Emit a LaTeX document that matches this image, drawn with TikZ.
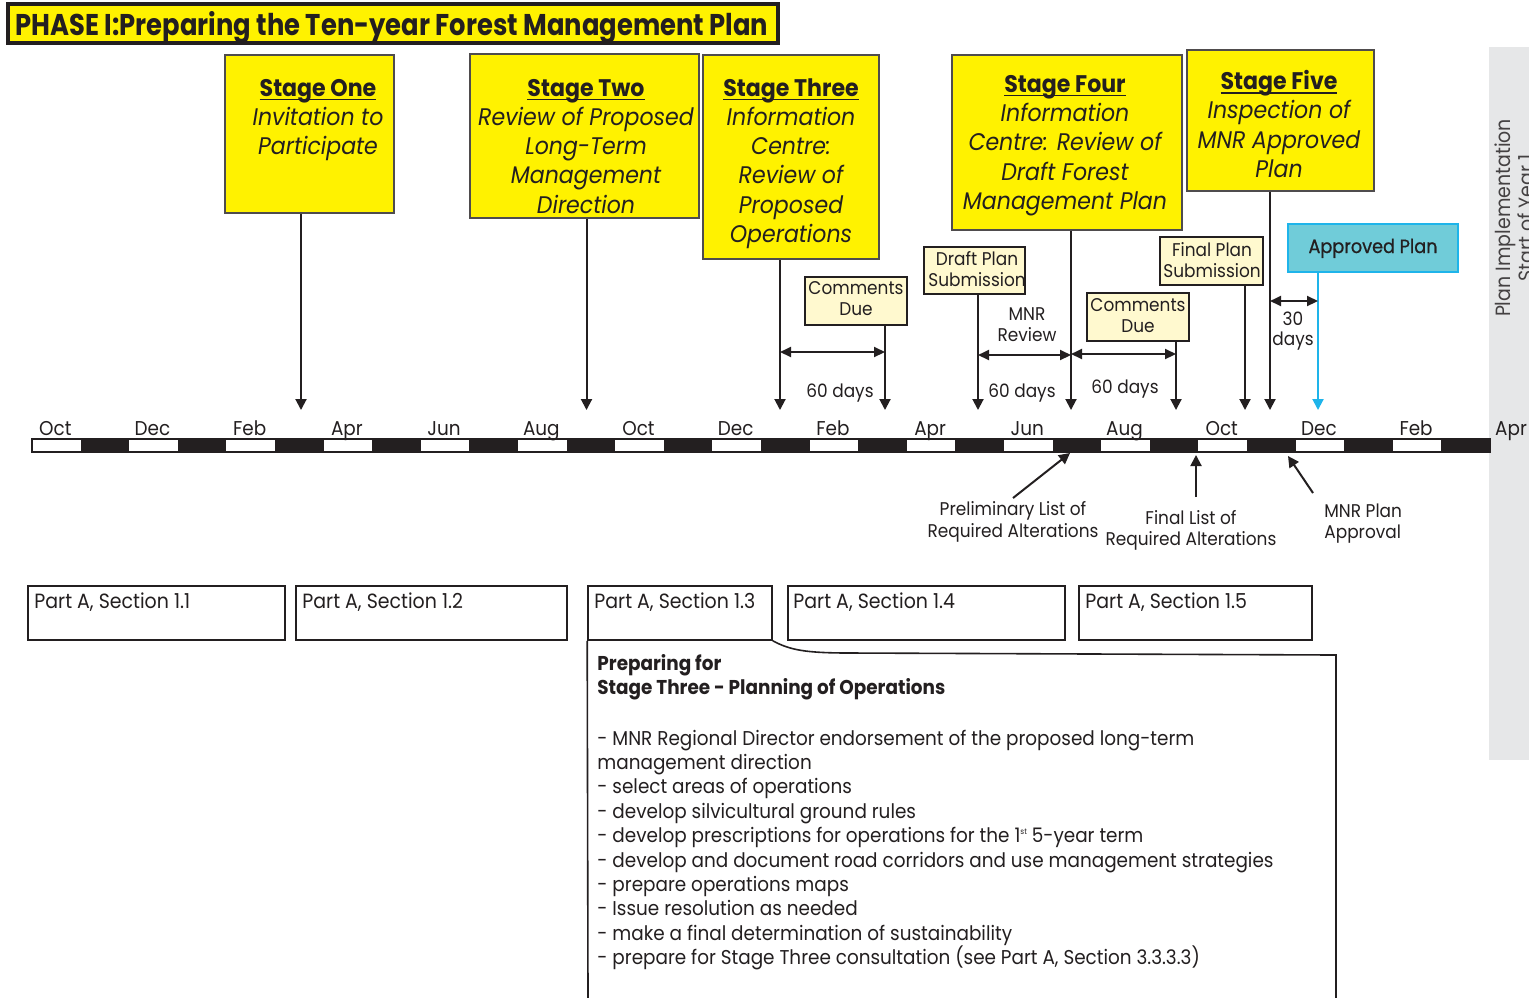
\documentclass[tikz,border=0pt]{standalone}
\usepackage{fontspec}
\setmainfont{Poppins}[FakeStretch=0.92]
\newfontfamily\titlefont{Poppins}[FakeStretch=0.86]
\newfontfamily\medfont{Poppins}[FakeStretch=0.92,FakeBold=0.8]
\usetikzlibrary{arrows.meta,fit,calc}

\definecolor{stageyellow}{HTML}{FFF200}
\definecolor{notefill}{HTML}{FFF9CF}
\definecolor{approvedfill}{HTML}{70CCD9}
\definecolor{approvedline}{HTML}{1EB4EA}
\definecolor{panelgray}{HTML}{E6E7E8}
\definecolor{ink}{HTML}{231F20}

% bold stage heading with a rule close under the baseline
\newcommand{\stagetitle}[1]{\textup{\bfseries\sbox0{#1}\rlap{\rule[-2.05pt]{\wd0}{0.75pt}}\usebox0}}

\begin{document}
% multi-line nodes are placed by the baseline of their last line
\begin{tikzpicture}[x=0.5pt,y=-0.5pt,color=ink,
  stagebox/.style={draw=ink!80, line width=0.6pt, fill=stageyellow, inner sep=0pt},
  stagetxt/.style={anchor=base, align=center, inner sep=0pt, font=\fontsize{12}{14.65}\selectfont\itshape},
  notebox/.style={draw=ink, line width=1pt, fill=notefill, inner sep=0pt},
  smalltxt/.style={anchor=base, align=center, inner sep=0pt, font=\fontsize{9.2}{10.5}\selectfont},
  tolink/.style={line width=1pt, -{Triangle[length=5.5pt,width=5.5pt]}},
  spanarrow/.style={line width=1pt, {Triangle[length=5.5pt,width=5pt]}-{Triangle[length=5.5pt,width=5pt]}},
  monthlbl/.style={anchor=base, inner sep=0pt, font=\fontsize{10}{12}\selectfont},
  partbox/.style={draw=ink, line width=0.8pt, inner sep=0pt},
  parttxt/.style={anchor=base west, inner sep=0pt, font=\fontsize{10.3}{12}\selectfont},
]
\useasboundingbox (0,0) rectangle (1529,997);
\clip (0,0) rectangle (1529,997);
\fill[white] (0,0) rectangle (1529,997);

% side panel: plan implementation
\fill[panelgray] (1489,47) rectangle (1529,760);
\node[rotate=90, anchor=base, align=center, inner sep=0pt,
      font=\fontsize{10.3}{11.5}\selectfont, text=ink!85] (impl) at (1533,218)
      {Plan Implementation\\Start of Year 1};

% title banner
\node[draw=ink, line width=1.6pt, fill=stageyellow, inner sep=0pt, fit={(8,4) (778,43)}] (titlebox) {};
\node[anchor=base west, inner sep=0pt, font=\titlefont\fontsize{15}{18}\selectfont\bfseries] (title)
      at (15,35) {PHASE I:Preparing the Ten-year Forest Management Plan};

% stage boxes
\node[stagebox, fit={(225,55) (394,213)}] (s1) {};
\node[stagetxt] (s1t) at (318,154.6) {\stagetitle{Stage One}\\Invitation to\\Participate};
\node[stagebox, fit={(470,54) (699,218)}] (s2) {};
\node[stagetxt] (s2t) at (586,213.2) {\stagetitle{Stage Two}\\Review of Proposed\\Long-Term\\Management\\Direction};
\node[stagebox, fit={(703,55) (879,259)}] (s3) {};
\node[stagetxt] (s3t) at (791,242.5) {\stagetitle{Stage Three}\\Information\\Centre:\\Review of\\Proposed\\Operations};
\node[stagebox, fit={(952,55) (1182,230)}] (s4) {};
\node[stagetxt] (s4t) at (1065,209.5) {\stagetitle{Stage Four}\\Information\\Centre: Review of\\Draft Forest\\Management Plan};
\node[stagebox, fit={(1187,50) (1374,191)}] (s5) {};
\node[stagetxt] (s5t) at (1279,177.5) {\stagetitle{Stage Five}\\Inspection of\\MNR Approved\\Plan};

% milestone boxes
\node[notebox, fit={(805,277) (907,325)}] (c1) {};
\node[smalltxt] (c1t) at (856,315.5) {Comments\\Due};
\node[notebox, fit={(924,247) (1025,294)}] (dp) {};
\node[smalltxt] (dpt) at (977,286.5) {Draft Plan\\Submission};
\node[notebox, fit={(1087,293) (1189,341)}] (c2) {};
\node[smalltxt] (c2t) at (1138,332.5) {Comments\\Due};
\node[notebox, fit={(1160,237) (1263,285)}] (fp) {};
\node[smalltxt] (fpt) at (1212,277.5) {Final Plan\\Submission};
\node[draw=approvedline, line width=1.2pt, fill=approvedfill, inner sep=0pt, fit={(1288,224) (1458,272)}] (ap) {};
\node[anchor=base, inner sep=0pt, font=\medfont\fontsize{9.6}{12}\selectfont] (apt) at (1373,253) {Approved Plan};

% arrow ends on the timeline
\coordinate (e1) at (301,410);
\coordinate (e2) at (586.5,410);
\coordinate (e3) at (780,410);
\coordinate (e4) at (885,410);
\coordinate (e5) at (978,410);
\coordinate (e6) at (1071,410);
\coordinate (e7) at (1176,410);
\coordinate (e8) at (1245,410);
\coordinate (e9) at (1270,410);
\coordinate (e10) at (1318,410);

\draw[tolink] (s1.south -| e1) -- (e1);
\draw[tolink] (s2.south -| e2) -- (e2);
\draw[tolink] (s3.south -| e3) -- (e3);
\draw[tolink] (c1.south -| e4) -- (e4);
\draw[tolink] (dp.south -| e5) -- (e5);
\draw[tolink] (s4.south -| e6) -- (e6);
\draw[tolink] (c2.south -| e7) -- (e7);
\draw[tolink] (fp.south -| e8) -- (e8);
\draw[tolink] (s5.south -| e9) -- (e9);
\draw[tolink, color=approvedline] (ap.south -| e10) -- (e10);

% review periods
\coordinate (h1) at (0,352);
\coordinate (h2) at (0,355);
\coordinate (h3) at (0,354);
\coordinate (h4) at (0,301);
\draw[spanarrow] (e3 |- h1) -- (e4 |- h1);
\draw[spanarrow] (e5 |- h2) -- (e6 |- h2);
\draw[spanarrow] (e6 |- h3) -- (e7 |- h3);
\draw[spanarrow] (e9 |- h4) -- (e10 |- h4);
\node[smalltxt] (d1) at (840,397) {60 days};
\node[smalltxt] (d2) at (1022,397) {60 days};
\node[smalltxt] (d3) at (1125,393) {60 days};
\node[smalltxt] (mnr) at (1027,341) {MNR\\Review};
\node[smalltxt, font=\fontsize{9.2}{10}\selectfont] (d4) at (1293,345) {30\\days};

% timeline bar
\fill[white] (32,439) rectangle (1490,452);
\foreach \i in {1,3,...,29} \fill[ink] ({32+\i*48.6},439) rectangle ++(48.6,13);
\draw[line width=0.6pt] (32,439) rectangle (1490,452);
\foreach \m [count=\k from 0] in {Oct,Dec,Feb,Apr,Jun,Aug,Oct,Dec,Feb,Apr,Jun,Aug,Oct,Dec,Feb}
  \node[monthlbl] (m\k) at ({55.3+\k*97.2},435) {\m};
\node[monthlbl] (m15) at (1511,435) {Apr};

% notes below the timeline
\node[smalltxt, font=\fontsize{9.2}{11}\selectfont] (prelim) at (1013,537) {Preliminary List of\\Required Alterations};
\coordinate (pt1) at (1070,453);
\coordinate (pq1) at (1013,498);
\draw[tolink] (pq1) -- (pt1);
\node[smalltxt] (flist) at (1191,545) {Final List of\\Required Alterations};
\coordinate (pt2) at (1196,455);
\coordinate (pq2) at (1196,497);
\draw[tolink] (pq2) -- (pt2);
\node[smalltxt, anchor=base west, align=left] (appr) at (1324,538) {MNR Plan\\Approval};
\coordinate (pt3) at (1288,456);
\coordinate (pq3) at (1313,493);
\draw[tolink] (pq3) -- (pt3);

% manual references
\node[partbox, fit={(28,586) (285,640)}] (pa1) {};
\node[parttxt] (pa1t) at (34,608) {Part A, Section 1.1};
\node[partbox, fit={(296,586) (567,640)}] (pa2) {};
\node[parttxt] (pa2t) at (302,608) {Part A, Section 1.2};
\node[partbox, fit={(588,586) (772,640)}] (pa3) {};
\node[parttxt] (pa3t) at (594,608) {Part A, Section 1.3};
\node[partbox, fit={(788,586) (1065,640)}] (pa4) {};
\node[parttxt] (pa4t) at (793,608) {Part A, Section 1.4};
\node[partbox, fit={(1079,586) (1312,640)}] (pa5) {};
\node[parttxt] (pa5t) at (1085,608) {Part A, Section 1.5};

% Stage Three preparation panel
\draw[line width=0.8pt] (pa3.south west) -- (588,1000);
\draw[line width=0.8pt] (pa3.south east) .. controls (790,650) and (805,653) .. (850,653) -- (1336,655) -- (1336,1000);
\node[anchor=base west, align=left, inner sep=0pt, font=\fontsize{10}{12}\selectfont\bfseries] (prep) at (597,694)
  {Preparing for\\Stage Three - Planning of Operations};
\node[anchor=base west, align=left, inner sep=0pt, font=\fontsize{10}{12.2}\selectfont] (tasks) at (597,964.6)
  {- MNR Regional Director endorsement of the proposed long-term\\
   management direction\\
   - select areas of operations\\
   - develop silvicultural ground rules\\
   - develop prescriptions for operations for the 1\raisebox{4pt}{\fontsize{4}{4}\selectfont st} 5-year term\\
   - develop and document road corridors and use management strategies\\
   - prepare operations maps\\
   - Issue resolution as needed\\
   - make a final determination of sustainability\\
   - prepare for Stage Three consultation (see Part A, Section 3.3.3.3)};
\end{tikzpicture}
\end{document}
